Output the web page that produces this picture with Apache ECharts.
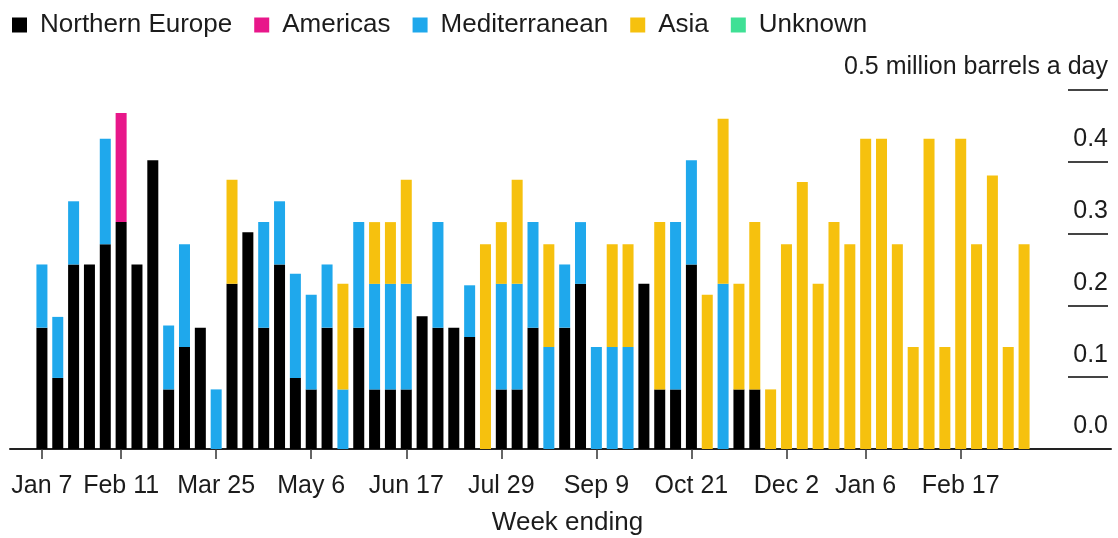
<!DOCTYPE html>
<html>
<head>
<meta charset="utf-8">
<script src="https://cdn.jsdelivr.net/npm/echarts@6/dist/echarts.min.js"></script>
<style>
  html, body { margin: 0; padding: 0; background: #fff; }
  #chart { width: 1118px; height: 538px; }
</style>
</head>
<body>
<div id="chart"></div>
<script>
// Week-ending dates (Saturdays), one bar per week
const weeks = [
  '2023-01-07','2023-01-14','2023-01-21','2023-01-28','2023-02-04','2023-02-11','2023-02-18','2023-02-25',
  '2023-03-04','2023-03-11','2023-03-18','2023-03-25','2023-04-01','2023-04-08','2023-04-15','2023-04-22',
  '2023-04-29','2023-05-06','2023-05-13','2023-05-20','2023-05-27','2023-06-03','2023-06-10','2023-06-17',
  '2023-06-24','2023-07-01','2023-07-08','2023-07-15','2023-07-22','2023-07-29','2023-08-05','2023-08-12',
  '2023-08-19','2023-08-26','2023-09-02','2023-09-09','2023-09-16','2023-09-23','2023-09-30','2023-10-07',
  '2023-10-14','2023-10-21','2023-10-28','2023-11-04','2023-11-11','2023-11-18','2023-11-25','2023-12-02',
  '2023-12-09','2023-12-16','2023-12-23','2023-12-30','2024-01-06','2024-01-13','2024-01-20','2024-01-27',
  '2024-02-03','2024-02-10','2024-02-17','2024-02-24','2024-03-02','2024-03-09','2024-03-16'
];

// Weeks that carry a tick and label on the time axis
const tickWeeks = ['2023-01-07','2023-02-11','2023-03-25','2023-05-06','2023-06-17','2023-07-29',
                   '2023-09-09','2023-10-21','2023-12-02','2024-01-06','2024-02-17'];
const tickLabels = ['Jan 7','Feb 11','Mar 25','May 6','Jun 17','Jul 29','Sep 9','Oct 21','Dec 2','Jan 6','Feb 17'];

// Y axis ticks (million barrels a day)
const yTicks = [0, 0.1, 0.2, 0.3, 0.4, 0.5];

// Volumes by destination, million barrels a day
const northernEurope = [
  0.169,0.099,0.257,0.257,0.285,0.316,0.257,0.402,0.083,0.142,0.169,null,0.230,0.302,0.169,0.257,
  0.099,0.083,0.169,null,0.169,0.083,0.083,0.083,0.185,0.169,0.169,0.156,null,0.083,0.083,0.169,
  null,0.169,0.230,null,null,null,0.230,0.083,0.083,0.257,null,null,0.083,0.083,null,null,
  null,null,null,null,null,null,null,null,null,null,null,null,null,null,null
];
const americas = [
  null,null,null,null,null,0.152,null,null,null,null,null,null,null,null,null,null,
  null,null,null,null,null,null,null,null,null,null,null,null,null,null,null,null,
  null,null,null,null,null,null,null,null,null,null,null,null,null,null,null,null,
  null,null,null,null,null,null,null,null,null,null,null,null,null,null,null
];
const mediterranean = [
  0.088,0.085,0.088,null,0.147,null,null,null,0.089,0.143,null,0.083,null,null,0.147,0.088,
  0.145,0.132,0.088,0.083,0.147,0.147,0.147,0.147,null,0.147,null,0.072,null,0.147,0.147,0.147,
  0.142,0.088,0.086,0.142,0.142,0.142,null,null,0.233,0.145,null,0.230,null,null,null,null,
  null,null,null,null,null,null,null,null,null,null,null,null,null,null,null
];
const asia = [
  null,null,null,null,null,null,null,null,null,null,null,null,0.145,null,null,null,
  null,null,null,0.147,null,0.086,0.086,0.145,null,null,null,null,0.285,0.086,0.145,null,
  0.143,null,null,null,0.143,0.143,null,0.233,null,null,0.215,0.230,0.147,0.233,0.083,0.285,
  0.372,0.230,0.316,0.285,0.432,0.432,0.285,0.142,0.432,0.142,0.432,0.285,0.381,0.142,0.285
];
const unknown = [];

const colors = {
  'Northern Europe': '#000000',
  'Americas': '#e8178a',
  'Mediterranean': '#1fa8ec',
  'Asia': '#f6c10e',
  'Unknown': '#3fe095'
};

const FONT = 'Liberation Sans, Arial, sans-serif';
const TEXT = '#1c1c1c';

const tickIndex = tickWeeks.map(w => weeks.indexOf(w));

function barSeries(name, data) {
  return {
    name: name,
    type: 'bar',
    stack: 'total',
    xAxisIndex: 0,
    yAxisIndex: 0,
    barWidth: 11,
    itemStyle: { color: colors[name] },
    emphasis: { disabled: true },
    data: data
  };
}

const chart = echarts.init(document.getElementById('chart'), null, { renderer: 'canvas' });

chart.setOption({
  animation: false,
  backgroundColor: '#ffffff',
  textStyle: { fontFamily: FONT },
  legend: {
    left: 7,
    top: 7,
    itemWidth: 15,
    itemHeight: 15,
    itemGap: 22,
    icon: 'rect',
    selectedMode: false,
    textStyle: { fontFamily: FONT, fontSize: 26, color: TEXT, padding: [0, 0, 0, 8] },
    data: ['Northern Europe', 'Americas', 'Mediterranean', 'Asia', 'Unknown']
  },
  grid: [
    // bars
    { left: 34, right: 86, top: 90, bottom: 89, outerBoundsMode: 'none' },
    // full-width frame: baseline and axis title
    { left: 10, right: 7, top: 90, bottom: 89, outerBoundsMode: 'none' },
    // short scale rules on the right with their labels
    { left: 1068, right: 10, top: 90, bottom: 89, outerBoundsMode: 'none' }
  ],
  xAxis: [
    {
      type: 'category',
      gridIndex: 0,
      data: weeks,
      boundaryGap: true,
      axisLine: { show: false },
      axisTick: {
        show: true,
        alignWithLabel: true,
        length: 10,
        interval: (i) => tickIndex.includes(i),
        lineStyle: { color: '#333', width: 1.5 }
      },
      axisLabel: {
        interval: (i) => tickIndex.includes(i),
        formatter: (v) => tickLabels[tickWeeks.indexOf(v)],
        fontFamily: FONT,
        fontSize: 25,
        color: TEXT,
        margin: 25
      },
      splitLine: { show: false }
    },
    {
      type: 'value',
      gridIndex: 1,
      min: 0,
      max: 1,
      name: 'Week ending',
      nameLocation: 'middle',
      nameGap: 61,
      nameTextStyle: { fontFamily: FONT, fontSize: 26, color: TEXT, padding: [0, 0, 0, 14] },
      axisLine: { show: true, lineStyle: { color: '#222', width: 2 } },
      axisTick: { show: false },
      axisLabel: { show: false },
      splitLine: { show: false }
    },
    {
      type: 'value',
      gridIndex: 2,
      min: 0,
      max: 1,
      show: false
    }
  ],
  yAxis: [
    {
      type: 'value',
      gridIndex: 0,
      min: yTicks[0],
      max: yTicks[yTicks.length - 1],
      interval: 0.1,
      show: false
    },
    {
      type: 'value',
      gridIndex: 1,
      min: yTicks[0],
      max: yTicks[yTicks.length - 1],
      show: false
    },
    {
      type: 'value',
      gridIndex: 2,
      position: 'right',
      min: yTicks[0],
      max: yTicks[yTicks.length - 1],
      interval: 0.1,
      axisLine: { show: false },
      axisTick: { show: false },
      splitLine: { show: true, lineStyle: { color: '#444', width: 2 } },
      axisLabel: {
        inside: true,
        margin: 0,
        align: 'right',
        verticalAlign: 'bottom',
        padding: [0, 0, 10, 0],
        fontFamily: FONT,
        fontSize: 25,
        color: TEXT,
        formatter: (v) => {
          const s = v.toFixed(1);
          return Math.abs(v - yTicks[yTicks.length - 1]) < 1e-9 ? s + ' million barrels a day' : s;
        }
      }
    }
  ],
  series: [
    barSeries('Northern Europe', northernEurope),
    barSeries('Americas', americas),
    barSeries('Mediterranean', mediterranean),
    barSeries('Asia', asia),
    barSeries('Unknown', unknown)
  ]
});
</script>
</body>
</html>
